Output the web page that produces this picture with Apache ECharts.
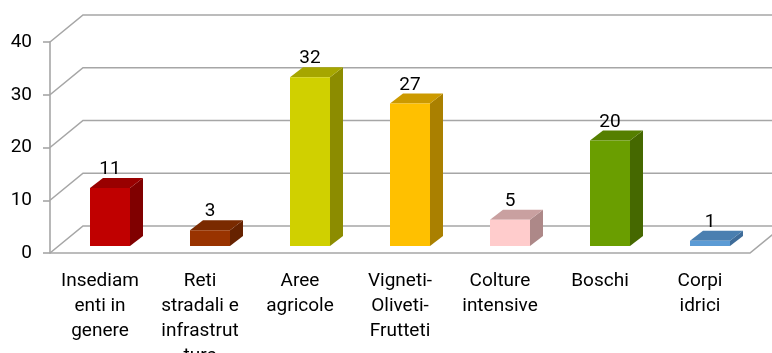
<!DOCTYPE html>
<html>
<head>
<meta charset="utf-8">
<script src="https://cdn.jsdelivr.net/npm/echarts@6/dist/echarts.min.js"></script>
<style>
  html, body { margin: 0; padding: 0; background: #ffffff; }
  #chart { width: 772px; height: 353px; }
</style>
</head>
<body>
<div id="chart"></div>
<script>
// Land-use categories (labels wrapped as they appear under each bar)
const categories = [
  'Insediam\nenti in\ngenere',
  'Reti\nstradali e\ninfrastrut\nture',
  'Aree\nagricole',
  'Vigneti-\nOliveti-\nFrutteti',
  'Colture\nintensive',
  'Boschi',
  'Corpi\nidrici'
];
const values = [11, 3, 32, 27, 5, 20, 1];
const yTicks = [0, 10, 20, 30, 40];

// Face colours of each prism: front, top, side
const faceFront = ['#C00000', '#993300', '#D0D000', '#FFC000', '#FFCCCC', '#6A9E00', '#5B9BD5'];
const faceTop   = ['#990000', '#7A2A00', '#A6A600', '#CC9A00', '#C9A0A0', '#557F00', '#4A7FB0'];
const faceSide  = ['#800000', '#662200', '#8C8C00', '#AA8000', '#AD8888', '#456800', '#3E6C99'];

// Oblique projection of the plot box and of the bars inside it
const WALL = [33, -27];      // depth of the floor / side wall
const BAR_SHIFT = [10, -7];  // bars sit a little behind the front edge
const BAR_DEPTH = [13, -10]; // thickness of each prism
const BAR_RATIO = 0.4;       // bar width relative to category band

const FONT = 'Roboto, sans-serif';
const GRID_COLOR = '#A6A6A6';

function gridRender(params, api) {
  const band = api.size([1, 0])[0];
  const p = api.coord([0, api.value(1)]);
  const xL = p[0] - band / 2;
  const xR = api.coord([categories.length - 1, 0])[0] + band / 2;
  const y = p[1];
  const style = { stroke: GRID_COLOR, lineWidth: 1.6, fill: null };
  const children = [{
    type: 'polyline',
    shape: { points: [[xL, y], [xL + WALL[0], y + WALL[1]], [xR + WALL[0], y + WALL[1]]] },
    style: style
  }];
  if (api.value(1) === 0) {
    children.push({
      type: 'polyline',
      shape: { points: [[xL, y], [xR, y], [xR + WALL[0], y + WALL[1]]] },
      style: style
    });
  }
  return { type: 'group', children: children };
}

function barRender(params, api) {
  const i = api.value(0);
  const band = api.size([1, 0])[0];
  const w = band * BAR_RATIO;
  const top = api.coord([i, api.value(1)]);
  const base = api.coord([i, 0]);
  const cx = top[0] + BAR_SHIFT[0];
  const x1 = cx - w / 2, x2 = cx + w / 2;
  const yT = top[1] + BAR_SHIFT[1];
  const yB = base[1] + BAR_SHIFT[1];
  const dx = BAR_DEPTH[0], dy = BAR_DEPTH[1];
  return {
    type: 'group',
    children: [
      {
        type: 'polygon',
        shape: { points: [[x2, yT], [x2 + dx, yT + dy], [x2 + dx, yB + dy], [x2, yB]] },
        style: { fill: faceSide[i] }
      },
      {
        type: 'polygon',
        shape: { points: [[x1, yT], [x1 + dx, yT + dy], [x2 + dx, yT + dy], [x2, yT]] },
        style: { fill: faceTop[i] }
      },
      {
        type: 'rect',
        shape: { x: x1, y: yT, width: w, height: yB - yT },
        style: { fill: faceFront[i] }
      },
      {
        type: 'text',
        x: cx,
        y: yT + dy + 1,
        style: {
          text: String(api.value(1)),
          fill: '#000000',
          fontFamily: FONT,
          fontSize: 19,
          align: 'center',
          verticalAlign: 'bottom'
        }
      }
    ]
  };
}

const chart = echarts.init(document.getElementById('chart'), null, { renderer: 'canvas' });
chart.setOption({
  animation: false,
  backgroundColor: '#ffffff',
  grid: { left: 50, right: 22, top: 42, bottom: 100, containLabel: false, outerBoundsMode: 'none' },
  xAxis: {
    type: 'category',
    data: categories,
    boundaryGap: true,
    axisLine: { show: false },
    axisTick: { show: false },
    axisLabel: {
      interval: 0,
      margin: 16,
      color: '#000000',
      fontFamily: FONT,
      fontSize: 19,
      lineHeight: 25
    },
    splitLine: { show: false }
  },
  yAxis: {
    type: 'value',
    min: 0,
    max: 40,
    interval: 10,
    axisLine: { show: true, lineStyle: { color: GRID_COLOR, width: 1.6 } },
    axisTick: { show: true, length: 7, lineStyle: { color: GRID_COLOR, width: 1.6 } },
    axisLabel: { color: '#000000', fontFamily: FONT, fontSize: 19, margin: 18 },
    splitLine: { show: false }
  },
  series: [
    {
      type: 'custom',
      silent: true,
      z: 1,
      renderItem: gridRender,
      data: yTicks.map(v => [0, v])
    },
    {
      type: 'custom',
      z: 2,
      renderItem: barRender,
      data: values.map((v, i) => [i, v])
    }
  ]
});
</script>
</body>
</html>
